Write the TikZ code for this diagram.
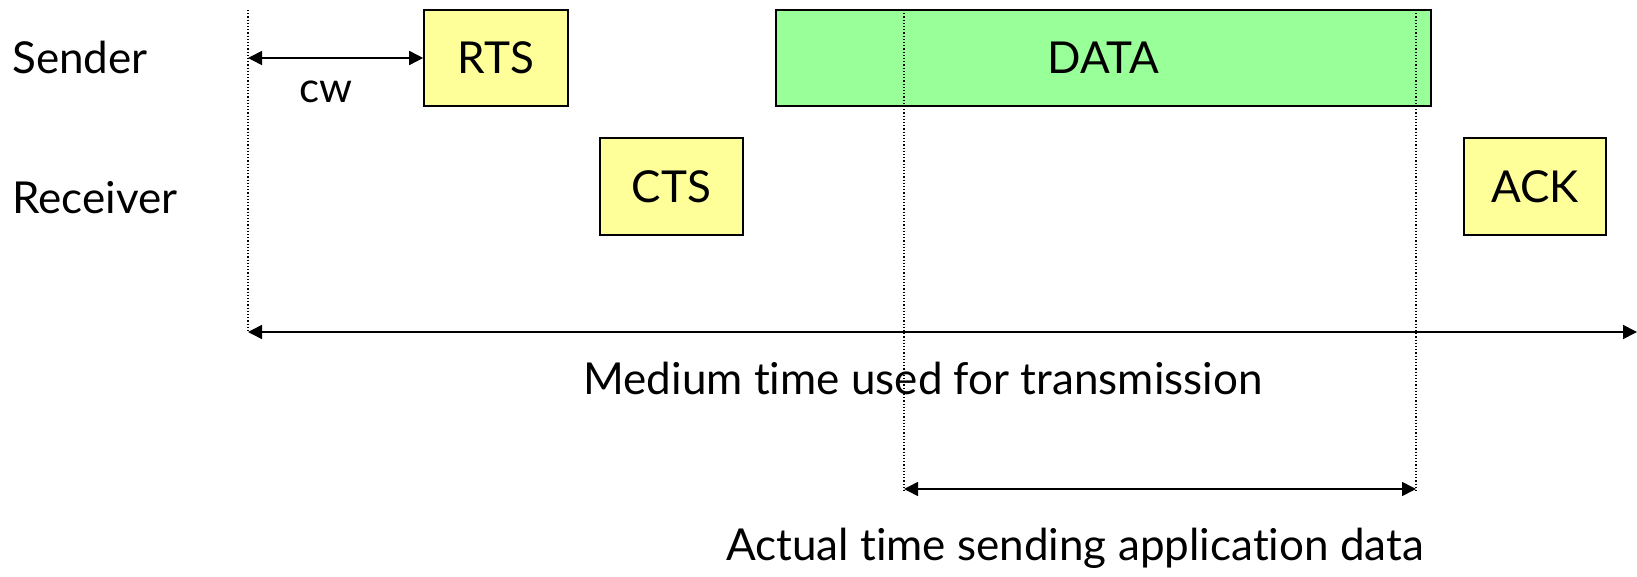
\documentclass[tikz,border=0pt]{standalone}
\usepackage{fontspec}
\setmainfont{Lato}[Ligatures=NoCommon]
\usetikzlibrary{arrows.meta}
\definecolor{pktyellow}{HTML}{FFFF99}
\definecolor{pktgreen}{HTML}{99FF99}
\tikzset{
  pkt/.style={draw,line width=1.6pt,inner sep=0pt,font=\fontsize{44}{50}\selectfont},
  lbl/.style={inner sep=0pt,font=\fontsize{44}{50}\selectfont},
  span/.style={line width=1.6pt,{Triangle[length=14pt,width=14pt]}-{Triangle[length=14pt,width=14pt]}},
  guide/.style={line width=1.2pt,dotted}
}
\begin{document}
\begin{tikzpicture}[x=1pt,y=-1pt]
            \useasboundingbox (0,0) rectangle (1637,577);
            \node (snd) at (12,57) [lbl,anchor=west] {Sender};
            \node (rcv) at (12,198) [lbl,anchor=west] {Receiver};

            \node (rts) at (496,58) [pkt,fill=pktyellow,minimum width=144pt,minimum height=96pt] {RTS};
            \node (data) at (1103.5,58) [pkt,fill=pktgreen,minimum width=655pt,minimum height=96pt] {DATA};
            \node (cts) at (671.5,186.5) [pkt,fill=pktyellow,minimum width=143pt,minimum height=97pt] {CTS};
            \node (ack) at (1535,186.5) [pkt,fill=pktyellow,minimum width=142pt,minimum height=97pt] {ACK};

            \coordinate (t0top) at (248,10);
            \coordinate (t0bot) at (248,332);
            \coordinate (d0top) at (904,10);
            \coordinate (d0bot) at (904,491);
            \coordinate (d1top) at (1416,10);
            \coordinate (d1bot) at (1416,491);
            \coordinate (cwstart) at (248,58);
            \coordinate (tend) at (1637,332);
            \coordinate (a0) at (904,489);
            \coordinate (a1) at (1416,489);

            \draw[guide] (t0top) -- (t0bot);
            \draw[guide] (d0top) -- (d0bot);
            \draw[guide] (d1top) -- (d1bot);

            \draw[span] (cwstart) -- (rts.west);
            \node (cw) at (326,92) [lbl,font=\fontsize{42}{46}\selectfont] {cw};
            \draw[span] (t0bot) -- (tend);
            \node (medium) at (923,378) [lbl] {Medium time used for transmission};
            \draw[span] (a0) -- (a1);
            \node (actual) at (1075,548) [lbl] {Actual time sending application data};
        \end{tikzpicture}
\end{document}
